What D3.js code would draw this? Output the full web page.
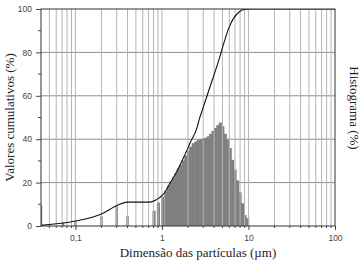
<!DOCTYPE html>
<html>
<head>
<meta charset="utf-8">
<script src="https://cdn.jsdelivr.net/npm/d3@7"></script>
<style>
  body { margin: 0; background: #fff; }
</style>
</head>
<body>
<div id="chart"></div>
<script>
// particle size (um) and cumulative %
const cumSize = [0.04, 0.1, 0.2, 0.31, 0.4, 0.72, 0.85, 1.02, 1.27, 1.45, 1.8, 2.15, 2.57, 2.69, 2.94, 3.5, 4.56, 5.2, 5.94, 6.78, 7.74, 8.83, 10, 100];
const cumValue = [0.3, 2.3, 5.5, 9.7, 11, 11, 12, 14.3, 20.5, 24.3, 32, 38.9, 45.9, 49, 53.6, 62.8, 76.7, 84.4, 91.3, 95.9, 98.5, 99.8, 100, 100];

// histogram bins (um) and %
const histSize = [0.04, 0.072, 0.1, 0.2, 0.3, 0.4, 0.81, 0.91, 1.02, 1.11, 1.19, 1.27, 1.36, 1.45, 1.55, 1.65, 1.77, 1.89, 2.02,
  2.15, 2.30, 2.46, 2.62, 2.80, 2.99, 3.19, 3.41, 3.64, 3.89, 4.15, 4.43, 4.73, 5.05, 5.39, 5.76, 6.15, 6.57, 7.01, 7.49,
  8.0, 8.54, 9.12, 9.8];
const histValue = [9.5, 1.5, 2, 4.5, 9, 4.6, 7, 10.8, 13.5, 16, 18.5, 20.5, 22.3, 24.5, 26.5, 28.2, 30.2, 32.5, 34.6,
  36.6, 38.2, 38.9, 39.7, 40, 40.3, 40.6, 41.3, 42.5, 43.8, 45.2, 46.5, 47.7, 46, 42.5, 40, 36, 30.5, 26, 21,
  15.5, 10.5, 5, 3.6];

const xTickValues = [0.1, 1, 10, 100];
const xTickLabels = ["0,1", "1", "10", "100"];
const yTickValues = [0, 20, 40, 60, 80, 100];

const margin = { top: 9, right: 28, bottom: 37, left: 41 };
const W = 363, H = 263;
const width = W - margin.left - margin.right;
const height = H - margin.top - margin.bottom;

const svg = d3.select("#chart").append("svg")
  .attr("width", W)
  .attr("height", H);

const g = svg.append("g")
  .attr("transform", "translate(" + margin.left + "," + margin.top + ")");

const x = d3.scaleLog().domain([0.04, 100]).range([0, width]);
const y = d3.scaleLinear().domain([0, 100]).range([height, 0]);

// minor log positions
const minor = [];
[0.01, 0.1, 1, 10].forEach(dec => {
  for (let k = 1; k <= 9; k++) {
    const v = dec * k;
    if (v > 0.04 && v <= 100) minor.push(v);
  }
});

g.append("defs").append("clipPath").attr("id", "clip")
  .append("rect").attr("width", width).attr("height", height);

// horizontal grid
g.append("g").selectAll("line")
  .data([20, 40, 60, 80])
  .enter().append("line")
    .attr("x1", 0).attr("x2", width)
    .attr("y1", d => y(d)).attr("y2", d => y(d))
    .attr("stroke", "#8c8c8c");

// histogram bars
const dense = 0.8;
g.append("g").attr("clip-path", "url(#clip)")
  .selectAll("rect")
  .data(histSize.map((s, i) => ({ s: s, v: histValue[i] })))
  .enter().append("rect")
    .attr("x", d => x(d.s / (d.s > dense ? 1.042 : 1.032)))
    .attr("width", d => {
      const h = d.s > dense ? 1.042 : 1.032;
      return x(d.s * h) - x(d.s / h);
    })
    .attr("y", d => y(d.v))
    .attr("height", d => height - y(d.v))
    .attr("fill", "#808080");

// vertical grid over bars
g.append("g").selectAll("line")
  .data(minor.filter(v => v < 100))
  .enter().append("line")
    .attr("x1", d => x(d)).attr("x2", d => x(d))
    .attr("y1", 0).attr("y2", height)
    .attr("stroke", "#b4b4b4");

// cumulative curve
const line = d3.line()
  .x((d, i) => x(d))
  .y((d, i) => y(cumValue[i]))
  .curve(d3.curveMonotoneX);

g.append("path")
  .datum(cumSize)
  .attr("clip-path", "url(#clip)")
  .attr("d", line)
  .attr("fill", "none")
  .attr("stroke", "#111")
  .attr("stroke-width", 1.1);

// frame
g.append("rect")
  .attr("width", width).attr("height", height)
  .attr("fill", "none")
  .attr("stroke", "#333");

// left axis
const yAxis = d3.axisLeft(y).tickValues(yTickValues).tickSize(5).tickSizeOuter(0);
const ya = g.append("g").call(yAxis);
ya.select(".domain").remove();
ya.selectAll("text")
  .attr("font-family", "Liberation Sans, Arial, sans-serif")
  .attr("font-size", 8.5)
  .attr("fill", "#444")
  .attr("dx", "-1");
ya.selectAll("line").attr("stroke", "#444");

g.append("g").selectAll("line")
  .data([10, 30, 50, 70, 90])
  .enter().append("line")
    .attr("x1", -3).attr("x2", 0)
    .attr("y1", d => y(d)).attr("y2", d => y(d))
    .attr("stroke", "#444");

// bottom axis
const xAxis = d3.axisBottom(x).tickValues(xTickValues)
  .tickFormat((d, i) => xTickLabels[i]).tickSize(4).tickSizeOuter(0);
const xa = g.append("g").attr("transform", "translate(0," + height + ")").call(xAxis);
xa.select(".domain").remove();
xa.selectAll("text")
  .attr("font-family", "Liberation Sans, Arial, sans-serif")
  .attr("font-size", 8.5)
  .attr("fill", "#444")
  .attr("dy", "0.9em");
xa.selectAll("line").attr("stroke", "#444");

g.append("g").selectAll("line")
  .data(minor.filter(v => xTickValues.indexOf(v) < 0))
  .enter().append("line")
    .attr("x1", d => x(d)).attr("x2", d => x(d))
    .attr("y1", height).attr("y2", height + 2)
    .attr("stroke", "#444");

// titles
svg.append("text")
  .attr("transform", "translate(14," + (margin.top + height / 2) + ") rotate(-90)")
  .attr("text-anchor", "middle")
  .attr("font-family", "Liberation Serif, Times New Roman, serif")
  .attr("font-size", 13)
  .attr("fill", "#222")
  .text("Valores cumulativos (%)");

svg.append("text")
  .attr("x", 198).attr("y", 257)
  .attr("text-anchor", "middle")
  .attr("font-family", "Liberation Serif, Times New Roman, serif")
  .attr("font-size", 13)
  .attr("fill", "#222")
  .text("Dimensão das partículas (µm)");

svg.append("text")
  .attr("transform", "translate(350,108) rotate(90)")
  .attr("text-anchor", "middle")
  .attr("font-family", "Liberation Serif, Times New Roman, serif")
  .attr("font-size", 13)
  .attr("fill", "#222")
  .text("Histograma (%)");
</script>
</body>
</html>
